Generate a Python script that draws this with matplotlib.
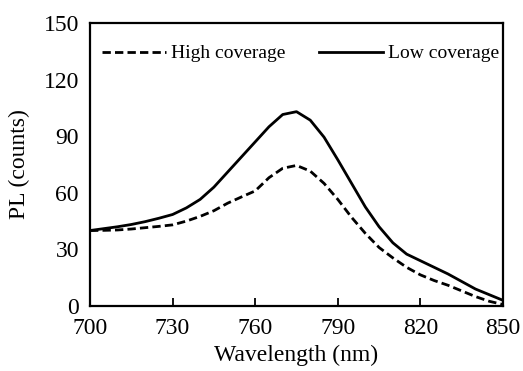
import numpy as np
import matplotlib
matplotlib.use('Agg')
from matplotlib import pyplot

pyplot.rcParams['font.family'] = ['Liberation Serif', 'DejaVu Serif']

# Data
wavelength = np.arange(700, 851, 5)
lowCoverage = [40, 41, 42, 43.2, 44.7, 46.5, 48.5, 52, 56.5, 63, 71, 79, 87, 95,
               101.5, 103, 98.5, 89.5, 77.5, 65, 52.5, 42, 33.5, 27.5, 24, 20.5,
               17, 13, 9, 6, 3]
highCoverage = [40, 40.1, 40.3, 40.8, 41.5, 42.2, 43, 45, 47.5, 50.5, 54.5, 57.8,
                61, 68, 73, 74.5, 71.5, 65, 56.5, 47, 38.5, 31, 25.5, 20.5, 16.5,
                13.5, 11, 8, 5, 2.5, 0.8]
xticks = [700, 730, 760, 790, 820, 850]
yticks = [0, 30, 60, 90, 120, 150]

fig = pyplot.figure(figsize=(5.23, 3.71), dpi=100)
ax = fig.add_axes([90 / 523, 65 / 371, 413 / 523, 283 / 371])

ax.plot(wavelength, highCoverage, color='black', linewidth=2.0,
        linestyle=(0, (3.0, 1.5)), label='High coverage')
ax.plot(wavelength, lowCoverage, color='black', linewidth=2.0,
        label='Low coverage')

ax.set_xlim(700, 850)
ax.set_ylim(0, 150)
ax.set_xticks(xticks)
ax.set_yticks(yticks)

for spine in ax.spines.values():
  spine.set_linewidth(1.6)

ax.tick_params(axis='x', direction='in', length=6, width=1.3, labelsize=17, pad=9)
ax.tick_params(axis='y', length=0, labelsize=17, pad=8)

ax.set_xlabel('Wavelength (nm)', fontsize=17, labelpad=4)
ax.set_ylabel('PL (counts)', fontsize=17, labelpad=10)

ax.legend(loc='upper center', ncol=2, frameon=False, fontsize=14,
          handlelength=3.3, columnspacing=1.7, handletextpad=0.26,
          bbox_to_anchor=(0.51, 0.985))

pyplot.savefig('out.png', dpi=100)
